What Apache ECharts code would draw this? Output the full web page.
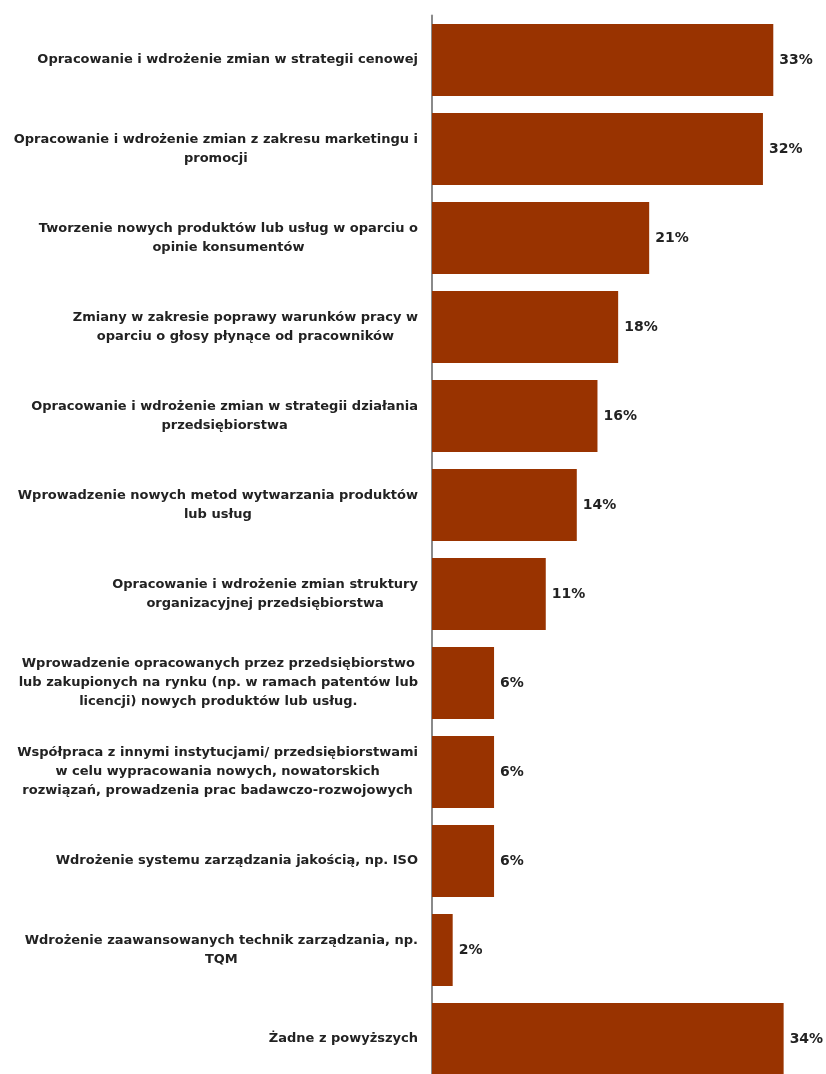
<!DOCTYPE html>
<html>
<head>
<meta charset="utf-8">
<script src="https://cdn.jsdelivr.net/npm/echarts@6/dist/echarts.min.js"></script>
<style>
  html, body { margin: 0; padding: 0; background: #fff; }
  #chart { width: 826px; height: 1074px; }
</style>
</head>
<body>
<div id="chart"></div>
<script>
// categories, top to bottom, with the line breaks seen in the picture
const categories = [
  'Opracowanie i wdrożenie zmian w strategii cenowej',
  'Opracowanie i wdrożenie zmian z zakresu marketingu i\npromocji',
  'Tworzenie nowych produktów lub usług w oparciu o\nopinie konsumentów',
  'Zmiany w zakresie poprawy warunków pracy w\noparciu o głosy płynące od pracowników',
  'Opracowanie i wdrożenie zmian w strategii działania\nprzedsiębiorstwa',
  'Wprowadzenie nowych metod wytwarzania produktów\nlub usług',
  'Opracowanie i wdrożenie zmian struktury\norganizacyjnej przedsiębiorstwa',
  'Wprowadzenie opracowanych przez przedsiębiorstwo\nlub zakupionych na rynku (np. w ramach patentów lub\nlicencji) nowych produktów lub usług.',
  'Współpraca z innymi instytucjami/ przedsiębiorstwami\nw celu wypracowania nowych, nowatorskich\nrozwiązań, prowadzenia prac badawczo-rozwojowych',
  'Wdrożenie systemu zarządzania jakością, np. ISO',
  'Wdrożenie zaawansowanych technik zarządzania, np.\nTQM',
  'Żadne z powyższych'
];
const values = [33, 32, 21, 18, 16, 14, 11, 6, 6, 6, 2, 34];

const chart = echarts.init(document.getElementById('chart'));
chart.setOption({
  animation: false,
  backgroundColor: '#fff',
  grid: { left: 432, top: 15.5, width: 393, height: 1068, outerBoundsMode: 'none' },
  xAxis: {
    type: 'value',
    min: 0,
    max: 38,
    show: false
  },
  yAxis: {
    type: 'category',
    inverse: true,
    data: categories,
    axisLine: { lineStyle: { color: '#8a8a8a', width: 2 } },
    axisTick: { show: false },
    axisLabel: {
      margin: 14,
      interval: 0,
      formatter: v => v.split('\n').map(s => '{c|' + s + '}').join('\n'),
      rich: {
        c: {
          align: 'center',
          fontFamily: 'DejaVu Sans, sans-serif',
          fontSize: 13,
          fontWeight: 'bold',
          lineHeight: 19,
          color: '#222'
        }
      }
    }
  },
  series: [{
    type: 'bar',
    data: values,
    barWidth: 72,
    itemStyle: { color: '#993300' },
    label: {
      show: true,
      position: 'right',
      distance: 6,
      formatter: '{c}%',
      fontFamily: 'DejaVu Sans, sans-serif',
      fontSize: 14,
      fontWeight: 'bold',
      color: '#222'
    }
  }]
});
</script>
</body>
</html>
